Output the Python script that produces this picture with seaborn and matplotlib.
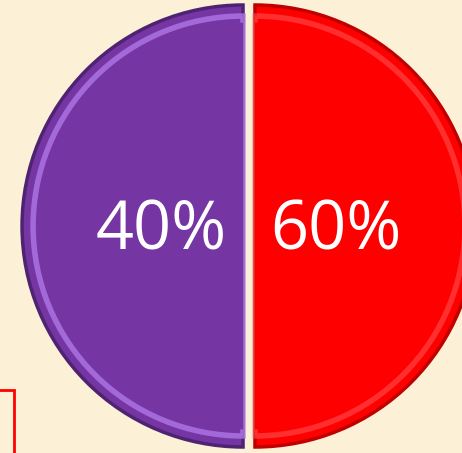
import matplotlib
matplotlib.use("Agg")
import matplotlib.pyplot as plt
import seaborn as sns
from matplotlib.patches import Rectangle

# Data
categories = ["Purple", "Red"]
slice_sizes = [50, 50]          # both pieces drawn as half discs
pct_labels = ["40%", "60%"]
colors = ["#7535A3", "#FF0000"]
edge_dark = ["#4E2372", "#C00000"]
edge_light = ["#B47BEA", "#FF6A6A"]
light_alpha = [0.75, 0.45]

bg = "#FCF1D7"
sns.set_style("white", {"axes.facecolor": bg, "figure.facecolor": bg})
plt.rcParams['font.family'] = ['Open Sans', 'DejaVu Sans']

fig = plt.figure(figsize=(4.62, 4.53), dpi=100)
ax = fig.add_axes([0, 0, 1, 1])

explode = [0.027, 0.027]

# outer body with dark rim
ax.pie(slice_sizes, colors=colors, startangle=90, counterclock=True,
       explode=explode, radius=1.0,
       wedgeprops=dict(linewidth=2.5))
for w, ec in zip(ax.patches, edge_dark):
    w.set_edgecolor(ec)

# soft bevel highlight ring
n_before = len(ax.patches)
ax.pie(slice_sizes, colors=colors, startangle=90, counterclock=True,
       explode=explode, radius=0.95,
       wedgeprops=dict(linewidth=4))
for w, ec, a in zip(ax.patches[n_before:], edge_light, light_alpha):
    w.set_edgecolor(matplotlib.colors.to_rgba(ec, a))

# inner face + labels
wedges, texts = ax.pie(slice_sizes, colors=colors, startangle=90,
                       counterclock=True, explode=explode, radius=0.92,
                       labels=pct_labels, labeldistance=0.40,
                       textprops=dict(color="white", fontsize=48,
                                      ha="center", va="center"),
                       wedgeprops=dict(linewidth=0))

scale = 221.0
for t in texts:
    x, y = t.get_position()
    t.set_position((x, y - 6 / scale))

# framing: pie center near pixel (249, 226), radius ~221 px
ax.set_xlim(-249 / scale, 213 / scale)
ax.set_ylim(-227 / scale, 226 / scale)
ax.set_aspect("equal")
ax.axis("off")

# cut-off red box at lower left
ax.add_patch(Rectangle((-0.01, -0.01), 0.04, 0.15, transform=ax.transAxes,
                       fill=False, edgecolor="#FF0000", linewidth=2,
                       clip_on=False))

fig.savefig("out.png", dpi=100, facecolor=bg)
